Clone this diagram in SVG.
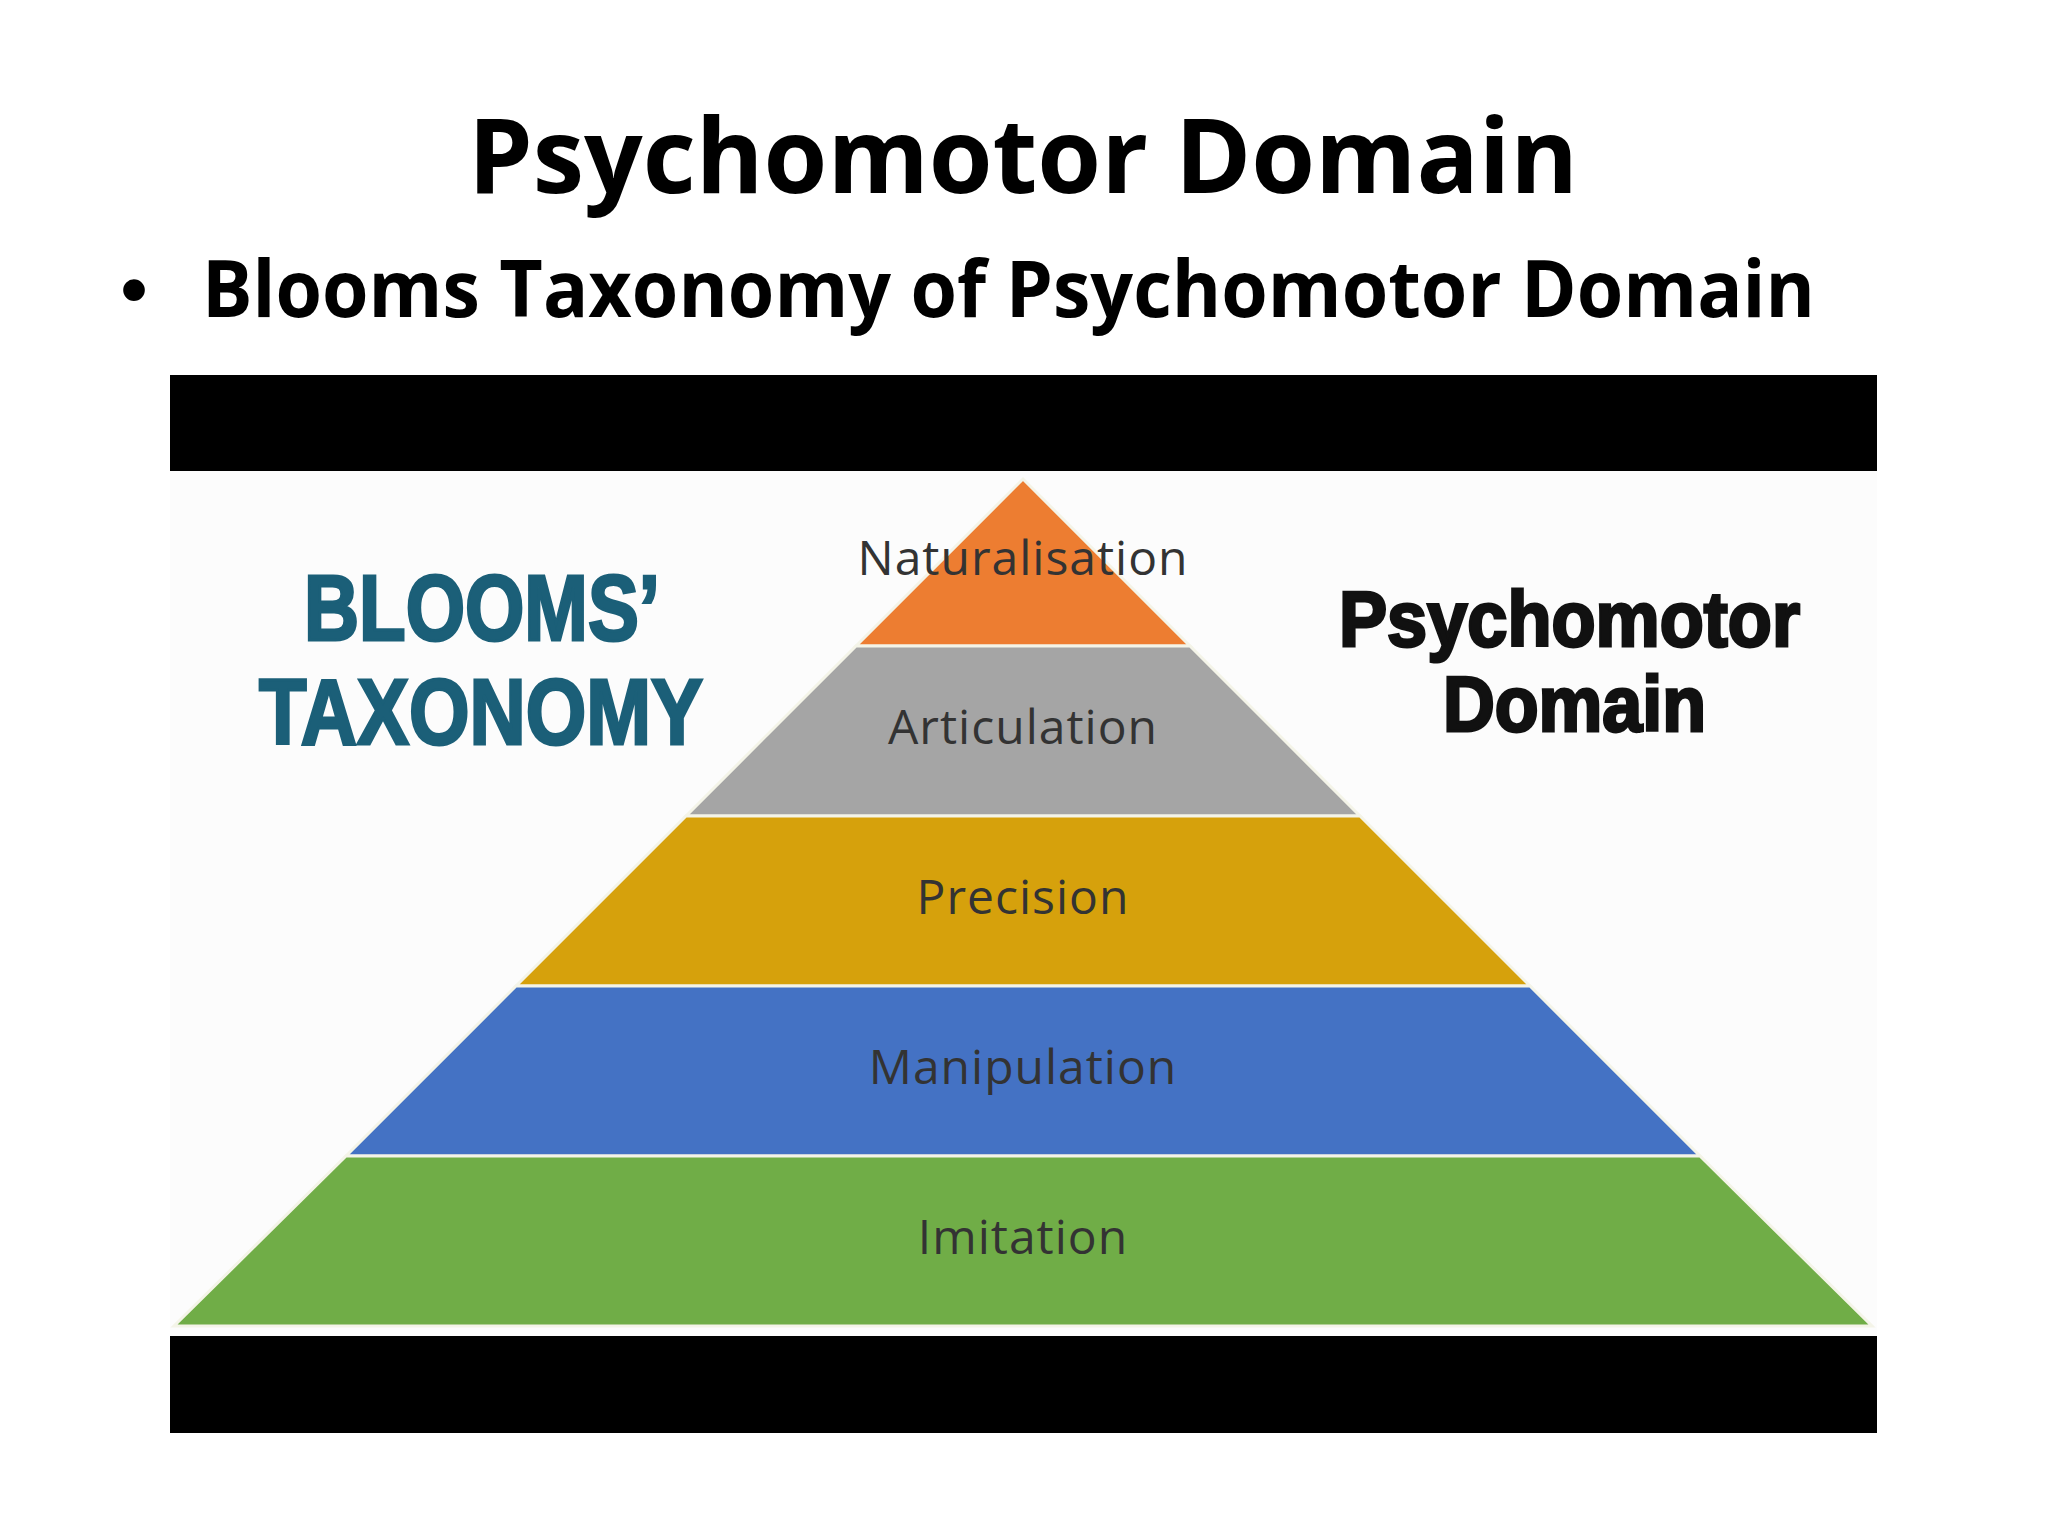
<svg xmlns="http://www.w3.org/2000/svg" width="2048" height="1536" viewBox="0 0 2048 1536">
<style>
.lbl{font-family:"Open Sans","Liberation Sans",sans-serif;font-size:48px;fill:#333;text-anchor:middle;letter-spacing:1px}
.band{stroke:#f4f4e8;stroke-width:3}
.blue{font-family:"Liberation Sans",sans-serif;font-weight:bold;fill:#1b5f78;stroke:#1b5f78;stroke-width:3}
.blk{font-family:"Liberation Sans",sans-serif;font-weight:bold;fill:#111;stroke:#111;stroke-width:3}
</style>
<rect width="2048" height="1536" fill="#fff"/>
<text x="1023" y="193" font-family="Open Sans, Liberation Sans, sans-serif" font-weight="bold" font-size="104" text-anchor="middle" textLength="1110" lengthAdjust="spacingAndGlyphs">Psychomotor Domain</text>
<text x="120" y="317" font-family="Liberation Sans, sans-serif" font-size="80">•</text>
<text x="202" y="317" font-family="Open Sans, Liberation Sans, sans-serif" font-weight="bold" font-size="78" textLength="1613" lengthAdjust="spacingAndGlyphs">Blooms Taxonomy of Psychomotor Domain</text>
<rect x="170" y="375" width="1707" height="96" fill="#000"/>
<rect x="170" y="471" width="1707" height="865" fill="#fcfcfc"/>
<rect x="170" y="1336" width="1707" height="97" fill="#000"/>
<g id="pyramid">
<g id="naturalisation"><polygon class="band" points="1023,479 856,646 1190,646" fill="#ED7D31"/><text class="lbl" x="1023" y="575">Naturalisation</text></g>
<g id="articulation"><polygon class="band" points="856,646 1190,646 1360,816 686,816" fill="#A5A5A5"/><text class="lbl" x="1023" y="744">Articulation</text></g>
<g id="precision"><polygon class="band" points="686,816 1360,816 1530,986 516,986" fill="#D6A10C"/><text class="lbl" x="1023" y="914">Precision</text></g>
<g id="manipulation"><polygon class="band" points="516,986 1530,986 1700,1156 346,1156" fill="#4472C4"/><text class="lbl" x="1023" y="1084">Manipulation</text></g>
<g id="imitation"><polygon class="band" points="346,1156 1700,1156 1872,1326 174,1326" fill="#70AD47"/><text class="lbl" x="1023" y="1254">Imitation</text></g>
</g>
<g id="connectors"/>
<text class="blue" x="304" y="640" font-size="92" textLength="356" lengthAdjust="spacingAndGlyphs">BLOOMS’</text>
<text class="blue" x="259" y="744" font-size="92" textLength="444" lengthAdjust="spacingAndGlyphs">TAXONOMY</text>
<text class="blk" x="1339" y="646" font-size="78" textLength="461" lengthAdjust="spacingAndGlyphs">Psychomotor</text>
<text class="blk" x="1443" y="731" font-size="78" textLength="263" lengthAdjust="spacingAndGlyphs">Domain</text>
</svg>
